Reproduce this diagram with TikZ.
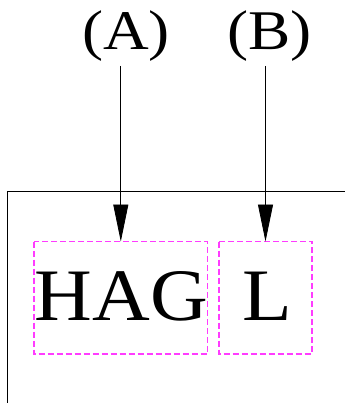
\documentclass[tikz,border=0pt]{standalone}
\usepackage{fontspec}
\setmainfont{Liberation Serif}
\usetikzlibrary{arrows.meta}
\definecolor{dashpink}{RGB}{255,60,255}
\begin{document}
\begin{tikzpicture}[x=1pt,y=-1pt,
  lbl/.style={inner sep=0pt,font=\fontsize{56}{64}\selectfont},
  big/.style={inner sep=0pt,font=\fontsize{74}{80}\selectfont},
  dbox/.style={inner sep=0pt,minimum height=112pt},
  dline/.style={dashpink,line width=1.3pt,dash pattern=on 6pt off 3pt},
  arr/.style={line width=0.8pt,-{Triangle[length=37pt,width=15pt]}},
  frame/.style={line width=0.8pt}]
\useasboundingbox (0,0) rectangle (345,403);
% frame
\coordinate (f1) at (7.3,403);
\coordinate (f2) at (7.3,191.3);
\coordinate (f3) at (345,191.3);
\draw[frame] (f1) -- (f2) -- (f3);
% boxes
\node[dbox,minimum width=173pt] (hagbox) at (120.8,297.7) {};
\node[dbox,minimum width=92.4pt] (lbox) at (265.5,297.7) {};
\draw[dline] (hagbox.north west) rectangle (hagbox.south east);
\draw[dline] (lbox.north west) rectangle (lbox.south east);
% texts
\node[big,anchor=base,xscale=1.08] (hag) at (121.5,320) {HAG};
\node[big,anchor=base,xscale=1.1] (l) at (267.5,320) {L};
\node[lbl,anchor=base,xscale=1.13] (a) at (126,50) {(A)};
\node[lbl,anchor=base,xscale=1.13] (b) at (269.5,50) {(B)};
\coordinate (as) at (120.8,66);
\coordinate (bs) at (265.5,66);
\draw[arr] (as) -- (hagbox.north);
\draw[arr] (bs) -- (lbox.north);
\end{tikzpicture}
\end{document}
